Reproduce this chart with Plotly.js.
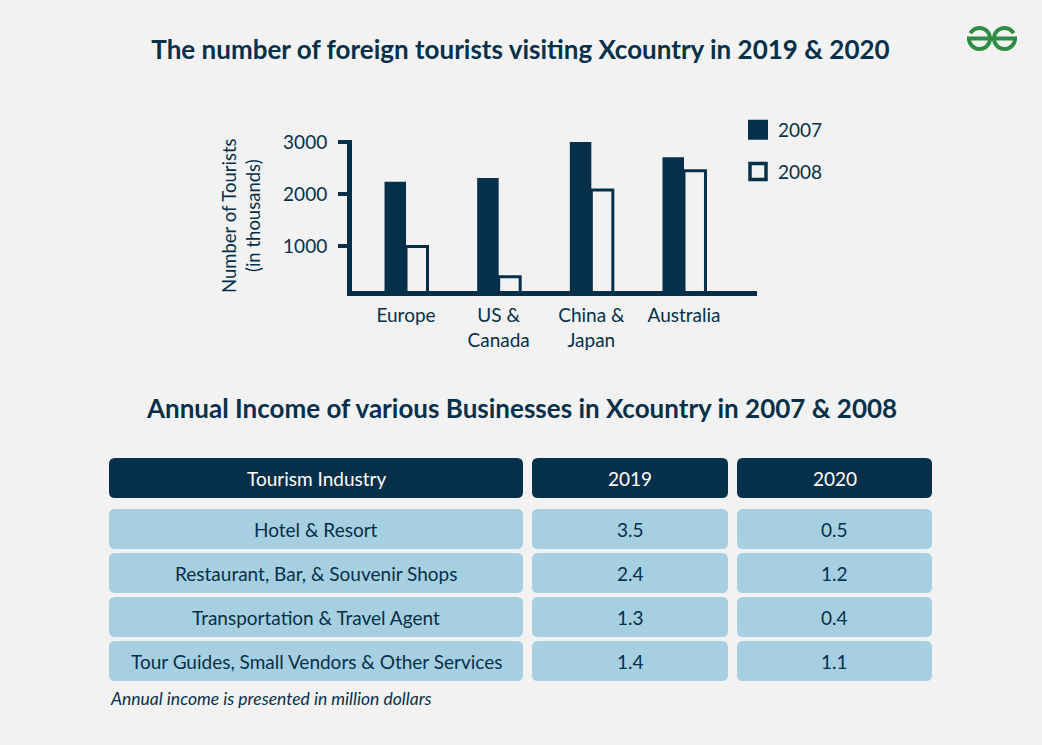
<!DOCTYPE html>
<html>
<head>
<meta charset="utf-8">
<script src="https://cdn.plot.ly/plotly-3.0.1.min.js"></script>
<style>
  html, body { margin: 0; padding: 0; background: #f2f2f2; }
  #chart { width: 1042px; height: 745px; }
</style>
</head>
<body>
<div id="chart"></div>
<script>
// ---- Tourist arrivals (thousands) ----
const regions = ['Europe', 'US &<br>Canada', 'China &<br>Japan', 'Australia'];
const tourists2007 = [2240, 2310, 3000, 2710];
const tourists2008 = [1000, 420, 2080, 2450];
const touristTicks = [1000, 2000, 3000];

// ---- Annual income table (million dollars) ----
const tableHeader = ['Tourism Industry', '2019', '2020'];
const industries = [
  'Hotel & Resort',
  'Restaurant, Bar, & Souvenir Shops',
  'Transportation & Travel Agent',
  'Tour Guides, Small Vendors & Other Services'
];
const income2019 = [3.5, 2.4, 1.3, 1.4];
const income2020 = [0.5, 1.2, 0.4, 1.1];

// ---- page geometry & styles ----
const W = 1042, H = 745;
const DARK = '#06304a';
const BG = '#f2f2f2';
const LIGHT = '#a6cfe1';
const GREEN = '#2f8d46';
const FONT = 'Lato, "Noto Sans", sans-serif';

const px = x => x / W;
const py = y => 1 - y / H;

function pt(x, y) { return px(x) + ',' + py(y); }

function roundedRect(x0, y0, x1, y1, r) {
  return 'M' + pt(x0 + r, y0) +
    ' L' + pt(x1 - r, y0) + ' Q' + pt(x1, y0) + ' ' + pt(x1, y0 + r) +
    ' L' + pt(x1, y1 - r) + ' Q' + pt(x1, y1) + ' ' + pt(x1 - r, y1) +
    ' L' + pt(x0 + r, y1) + ' Q' + pt(x0, y1) + ' ' + pt(x0, y1 - r) +
    ' L' + pt(x0, y0 + r) + ' Q' + pt(x0, y0) + ' ' + pt(x0 + r, y0) + ' Z';
}

function arcPath(cx, cy, r, a0, a1) {
  const steps = 40;
  let d = '';
  for (let i = 0; i <= steps; i++) {
    const a = (a0 + (a1 - a0) * i / steps) * Math.PI / 180;
    d += (i === 0 ? 'M' : ' L') + pt(cx + r * Math.cos(a), cy - r * Math.sin(a));
  }
  return d;
}

const shapes = [];
const annotations = [];

// table cells
const colX = [[109, 523], [532, 728], [737, 932]];
const headTop = 458, headBottom = 498;
const rowTop = 509, rowPitch = 44, rowH = 40;
const CELL_FONT = 19;

tableHeader.forEach((txt, c) => {
  shapes.push({
    type: 'path', xref: 'paper', yref: 'paper', layer: 'below',
    path: roundedRect(colX[c][0], headTop, colX[c][1], headBottom, 6),
    fillcolor: DARK, line: { width: 0 }
  });
  annotations.push({
    xref: 'paper', yref: 'paper', showarrow: false,
    x: px((colX[c][0] + colX[c][1]) / 2), y: py((headTop + headBottom) / 2),
    xanchor: 'center', yanchor: 'middle',
    text: txt, font: { family: FONT, size: CELL_FONT, color: '#ffffff' }
  });
});

industries.forEach((name, r) => {
  const cells = [name, income2019[r].toFixed(1), income2020[r].toFixed(1)];
  const y0 = rowTop + r * rowPitch, y1 = y0 + rowH;
  cells.forEach((txt, c) => {
    shapes.push({
      type: 'path', xref: 'paper', yref: 'paper', layer: 'below',
      path: roundedRect(colX[c][0], y0, colX[c][1], y1, 6),
      fillcolor: LIGHT, line: { width: 0 }
    });
    annotations.push({
      xref: 'paper', yref: 'paper', showarrow: false,
      x: px((colX[c][0] + colX[c][1]) / 2), y: py((y0 + y1) / 2),
      xanchor: 'center', yanchor: 'middle',
      text: txt.replace(/&/g, '&amp;'), font: { family: FONT, size: CELL_FONT, color: DARK }
    });
  });
});

// logo mark
shapes.push({
  type: 'path', xref: 'paper', yref: 'paper',
  path: arcPath(979.5, 38.5, 10.5, 150, -180), line: { color: GREEN, width: 4 }
});
shapes.push({
  type: 'path', xref: 'paper', yref: 'paper',
  path: arcPath(1004.5, 38.5, 10.5, 30, 360), line: { color: GREEN, width: 4 }
});
shapes.push({
  type: 'path', xref: 'paper', yref: 'paper',
  path: 'M' + pt(967, 38.5) + ' L' + pt(1017, 38.5), line: { color: GREEN, width: 4 }
});

// y-axis title of the bar chart
annotations.push({
  xref: 'paper', yref: 'paper', showarrow: false,
  x: px(241), y: py(216), xanchor: 'center', yanchor: 'middle', textangle: -90,
  text: 'Number of Tourists<br>(in thousands)',
  font: { family: FONT, size: 18.5, color: DARK }
});

// table title
annotations.push({
  xref: 'paper', yref: 'paper', showarrow: false,
  x: px(521), y: py(408), xanchor: 'center', yanchor: 'middle',
  text: 'Annual Income of various Businesses in Xcountry in 2007 &amp; 2008',
  font: { family: FONT, size: 26, color: DARK, weight: 700 }
});

// footnote
annotations.push({
  xref: 'paper', yref: 'paper', showarrow: false,
  x: px(108), y: py(698), xanchor: 'left', yanchor: 'middle',
  text: 'Annual income is presented in million dollars',
  font: { family: FONT, size: 17.5, color: DARK, style: 'italic' }
});

const traces = [
  {
    type: 'bar', x: regions, y: tourists2007, name: '2007', showlegend: false,
    marker: { color: DARK, line: { color: DARK, width: 0 } }, hoverinfo: 'x+y'
  },
  {
    type: 'bar', x: regions, y: tourists2008, name: '2008', showlegend: false,
    marker: { color: BG, line: { color: DARK, width: 3 } }, hoverinfo: 'x+y'
  },
  // legend keys
  {
    type: 'scatter', mode: 'markers', x: [null], y: [null], name: '2007', legendgroup: 'a',
    marker: { symbol: 'square', size: 16, color: DARK, line: { color: DARK, width: 4 } }
  },
  {
    type: 'scatter', mode: 'markers', x: [null], y: [null], name: '2008', legendgroup: 'b',
    marker: { symbol: 'square', size: 16, color: BG, line: { color: DARK, width: 3.5 } }
  }
];

const layout = {
  width: W, height: H,
  margin: { l: 0, r: 0, t: 0, b: 0, pad: 0 },
  paper_bgcolor: BG, plot_bgcolor: 'rgba(0,0,0,0)',
  font: { family: FONT, color: DARK },
  title: {
    text: 'The number of foreign tourists visiting Xcountry in 2019 &amp; 2020',
    x: px(520.5), xanchor: 'center', y: py(50), yanchor: 'middle', yref: 'paper',
    font: { family: FONT, size: 26, color: DARK, weight: 700 }
  },
  barmode: 'group', bargap: 0.536, bargroupgap: 0,
  xaxis: {
    domain: [px(352), px(757)], range: [-0.583, 3.788],
    showline: true, linewidth: 5, linecolor: DARK,
    ticks: '', showgrid: false, zeroline: false, fixedrange: true,
    tickfont: { family: FONT, size: 19, color: DARK }, ticklabelstandoff: 3
  },
  yaxis: {
    domain: [py(291), py(140)], range: [148, 3038],
    tickvals: touristTicks, ticktext: touristTicks.map(String),
    showline: true, linewidth: 5, linecolor: DARK,
    ticks: 'outside', ticklen: 9, tickwidth: 4, tickcolor: DARK,
    showgrid: false, zeroline: false, fixedrange: true,
    tickfont: { family: FONT, size: 19, color: DARK }, ticklabelstandoff: 7
  },
  showlegend: true,
  legend: {
    x: px(738), xanchor: 'left', y: py(111), yanchor: 'top',
    bgcolor: 'rgba(0,0,0,0)', font: { family: FONT, size: 19, color: DARK },
    itemsizing: 'trace', tracegroupgap: 14
  },
  shapes: shapes,
  annotations: annotations
};

Plotly.newPlot('chart', traces, layout, { displayModeBar: false, staticPlot: true });
</script>
</body>
</html>
